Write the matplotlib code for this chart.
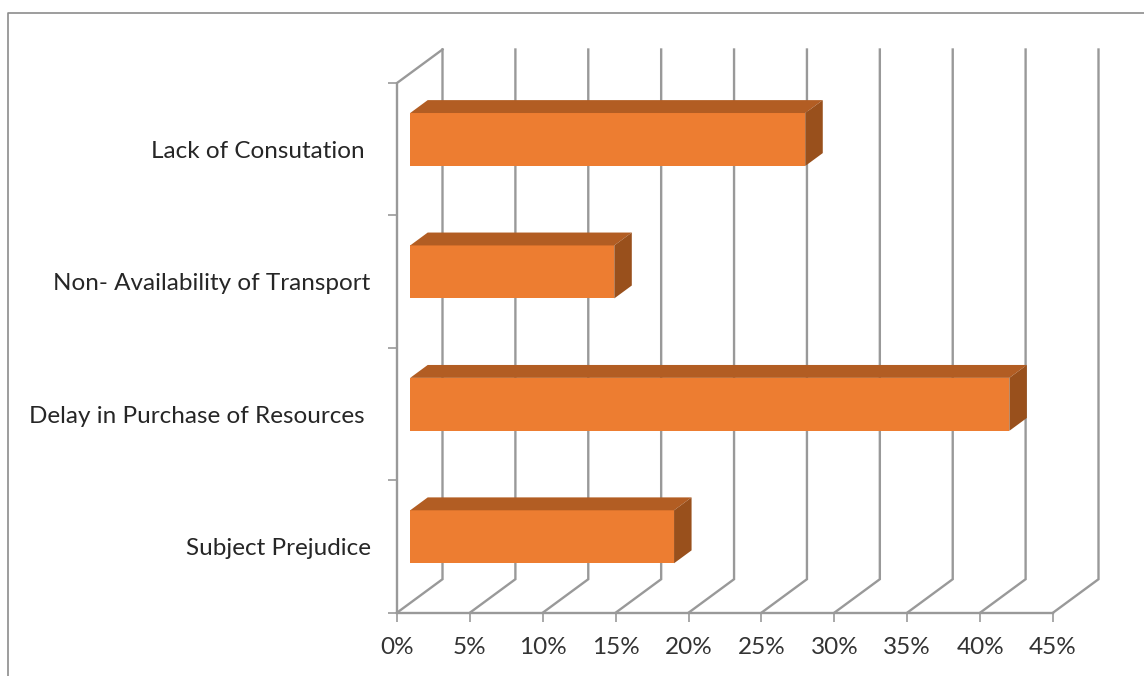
import matplotlib
matplotlib.use('Agg')
import matplotlib.pyplot as plt
from matplotlib.lines import Line2D
from matplotlib.patches import Polygon
from matplotlib.transforms import Affine2D, IdentityTransform

plt.rcParams['font.family'] = ['Lato', 'DejaVu Sans']

# bottom to top
categories = ['Subject Prejudice', 'Delay in Purchase of Resources ',
              'Non- Availability of Transport', 'Lack of Consutation ']
values = [18.1, 41.1, 14, 27.1]
x_ticks = [0, 5, 10, 15, 20, 25, 30, 35, 40, 45]

W, H = 1144, 676
GRID = '#999999'
FRONT = '#ED7D31'
TOP = '#B25D23'
SIDE = '#99501C'

# depth of the fake 3d box, pixels
DX, DY = 45.5, 33.5
BAR_D0, BAR_D1 = 0.29, 0.675

fig = plt.figure(figsize=(W / 100, H / 100), dpi=100)
ax = fig.add_axes([397 / W, 1 - 612.7 / H, 656 / W, 529.7 / H])
ax.set_xlim(0, 45)
ax.set_ylim(-0.5, 3.5)
for s in ax.spines.values():
    s.set_visible(False)
ax.patch.set_visible(False)


def pt(x, y, d=0.0):
    px, py = ax.transData.transform((x, y))
    return px + d * DX, py + d * DY


def line(points, zorder=1):
    xs = [p[0] for p in points]
    ys = [p[1] for p in points]
    ax.add_line(Line2D(xs, ys, color=GRID, lw=1.7, transform=IdentityTransform(),
                       clip_on=False, zorder=zorder, solid_joinstyle='miter'))


# walls and floor
line([pt(0, -0.5), pt(45, -0.5)])
line([pt(0, -0.5), pt(0, 3.5), pt(0, 3.5, 1)])
for t in x_ticks:
    line([pt(t, -0.5), pt(t, -0.5, 1), pt(t, 3.5, 1)])

# bars
ax.barh(range(len(values)), values, height=0.4, color=FRONT, zorder=3, clip_on=False,
        transform=ax.transData + Affine2D().translate(BAR_D0 * DX, BAR_D0 * DY))
for i, v in enumerate(values):
    top = [pt(0, i + 0.2, BAR_D0), pt(v, i + 0.2, BAR_D0), pt(v, i + 0.2, BAR_D1), pt(0, i + 0.2, BAR_D1)]
    side = [pt(v, i - 0.2, BAR_D0), pt(v, i + 0.2, BAR_D0), pt(v, i + 0.2, BAR_D1), pt(v, i - 0.2, BAR_D1)]
    ax.add_patch(Polygon(top, closed=True, fc=TOP, ec='none', transform=IdentityTransform(), zorder=3, clip_on=False))
    ax.add_patch(Polygon(side, closed=True, fc=SIDE, ec='none', transform=IdentityTransform(), zorder=3, clip_on=False))

# ticks
ax.set_xticks(x_ticks)
ax.set_xticklabels([f'{t}%' for t in x_ticks])
ax.tick_params(axis='x', length=6.5, width=1.2, color=GRID, labelsize=17.5, labelcolor='#333333', pad=11)
ax.set_yticks([-0.5, 0.5, 1.5, 2.5, 3.5], minor=False)
ax.set_yticklabels([])
ax.tick_params(axis='y', length=6.5, width=1.2, color=GRID)
ax.set_yticks(range(len(categories)), minor=True)
ax.set_yticklabels(categories, minor=True)
ax.tick_params(axis='y', which='minor', length=0, labelsize=17.5, labelcolor='#262626', pad=19)

# picture border, only top and left show
fig.add_artist(Line2D([7.5 / W, 7.5 / W, 1], [0, 1 - 12.5 / H, 1 - 12.5 / H], color='#8c8c8c', lw=1.2))

fig.savefig('out.png', dpi=100)
